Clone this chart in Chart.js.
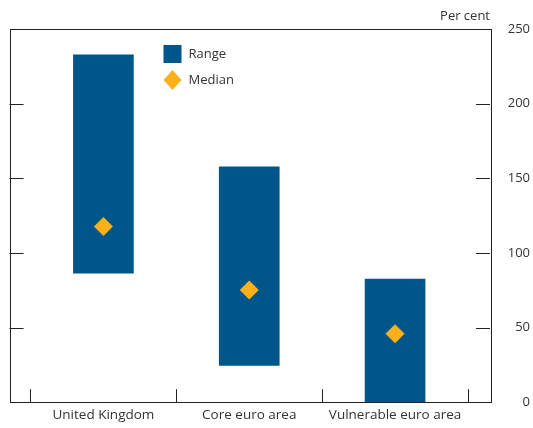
<!DOCTYPE html>
<html><head><meta charset="utf-8">
<script src="https://cdn.jsdelivr.net/npm/chart.js@4/dist/chart.umd.min.js"></script>
<style>html,body{margin:0;padding:0;background:#fff}#wrap{width:533px;height:428px}</style>
</head><body><div id="wrap"><canvas id="c" width="533" height="428"></canvas></div>
<script>
const categories = ['United Kingdom', 'Core euro area', 'Vulnerable euro area'];
const rangeLow = [86.4, 24.6, 0];
const rangeHigh = [232.7, 157.6, 82.4];
const medians = [117.7, 75.1, 45.9];
const yTicks = [0, 50, 100, 150, 200, 250];
const unitLabel = 'Per cent';

const FONT = '"Open Sans", sans-serif';
const TXT = '#333333';
const BLUE = '#00558a';
const GOLD = '#fcb01a';

const boxPlugin = {
  id: 'boxPlugin',
  afterDraw(chart) {
    const ctx = chart.ctx, a = chart.chartArea;
    const xs = chart.scales.x, ys = chart.scales.y;
    ctx.save();
    ctx.strokeStyle = '#222';
    ctx.lineWidth = 1;
    ctx.strokeRect(Math.round(a.left) + 0.5, Math.round(a.top) + 0.5, Math.round(a.right - a.left), Math.round(a.bottom - a.top));
    ctx.beginPath();
    ys.ticks.forEach(t => {
      if (t.value <= ys.min || t.value >= ys.max) return;
      const y = Math.round(ys.getPixelForValue(t.value)) + 0.5;
      ctx.moveTo(a.left, y); ctx.lineTo(a.left + 14, y);
      ctx.moveTo(a.right - 14, y); ctx.lineTo(a.right, y);
    });
    xs.ticks.forEach(t => {
      if (Number.isInteger(t.value)) return;
      const x = Math.round(xs.getPixelForValue(t.value)) + 0.5;
      ctx.moveTo(x, a.bottom); ctx.lineTo(x, a.bottom - 13);
    });
    ctx.stroke();
    // unit label
    ctx.fillStyle = TXT;
    ctx.font = '13px ' + FONT;
    ctx.textAlign = 'right';
    ctx.textBaseline = 'middle';
    ctx.fillText(unitLabel, a.right, 16);
    // legend
    const ds = chart.data.datasets;
    const lx = a.left + 154, ly = a.top + 25;
    ctx.fillStyle = ds[0].backgroundColor;
    ctx.fillRect(lx, ly - 9, 18, 18);
    ctx.fillStyle = ds[1].backgroundColor;
    const dy = ly + 26, dcx = lx + 9;
    ctx.beginPath();
    ctx.moveTo(dcx, dy - 10); ctx.lineTo(dcx + 9, dy); ctx.lineTo(dcx, dy + 10); ctx.lineTo(dcx - 9, dy); ctx.closePath();
    ctx.fill();
    ctx.fillStyle = TXT;
    ctx.textAlign = 'left';
    ctx.fillText(ds[0].label, lx + 25, ly);
    ctx.fillText(ds[1].label, lx + 25, dy);
    ctx.restore();
  }
};

new Chart(document.getElementById('c'), {
  type: 'bar',
  data: {
    datasets: [
      {
        type: 'bar', label: 'Range',
        data: categories.map((c, i) => ({ x: i, y: [rangeLow[i], rangeHigh[i]] })),
        backgroundColor: BLUE, barThickness: 60, borderWidth: 0, order: 2
      },
      {
        type: 'scatter', label: 'Median',
        data: categories.map((c, i) => ({ x: i, y: medians[i] })),
        backgroundColor: GOLD, borderWidth: 0, pointStyle: 'rectRot', pointRadius: 9.5, order: 1
      }
    ]
  },
  options: {
    responsive: false, animation: false,
    layout: { padding: { left: 9, top: 29, right: 3, bottom: 0 } },
    plugins: { legend: { display: false }, tooltip: { enabled: false } },
    scales: {
      x: {
        type: 'linear', min: -0.644, max: 2.651, offset: false,
        afterBuildTicks: ax => { ax.ticks = [-0.5, 0, 0.5, 1, 1.5, 2, 2.5].map(v => ({ value: v })); },
        afterFit: ax => { ax.height = 23; },
        grid: { display: false, drawTicks: false, offset: false },
        border: { display: false },
        ticks: {
          autoSkip: false, maxRotation: 0, padding: 5,
          color: TXT, font: { family: FONT, size: 13.5 },
          callback: v => Number.isInteger(v) ? categories[v] : ''
        }
      },
      y: {
        position: 'right', min: 0, max: 250,
        afterBuildTicks: ax => { ax.ticks = yTicks.map(v => ({ value: v })); },
        afterFit: ax => { ax.width = 40; },
        grid: { display: false, drawTicks: false },
        border: { display: false },
        ticks: { padding: 18, crossAlign: 'far', color: TXT, font: { family: FONT, size: 13 } }
      }
    }
  },
  plugins: [boxPlugin]
});
</script></body></html>
